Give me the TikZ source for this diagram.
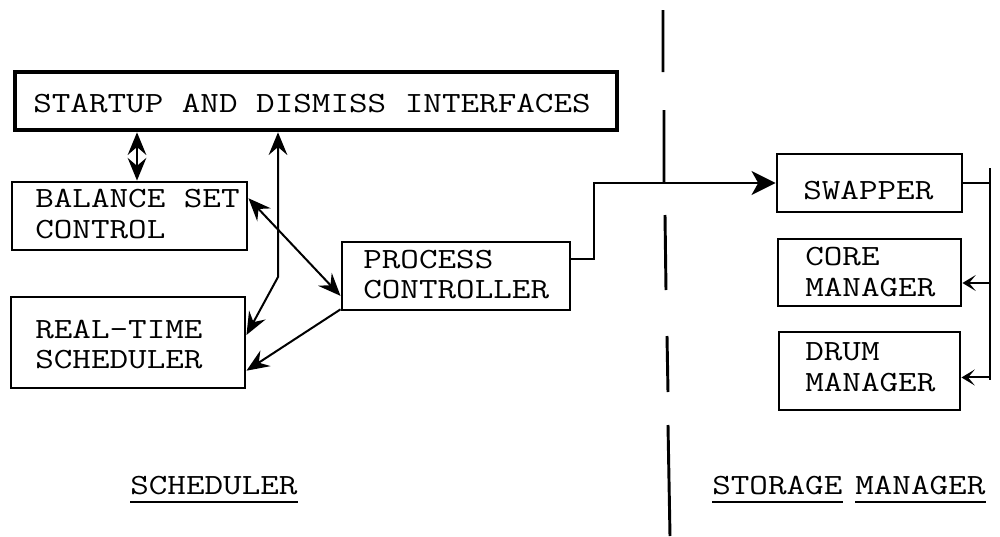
\documentclass[tikz,border=0pt]{standalone}
\usetikzlibrary{arrows.meta,calc,fit}
\newcommand{\twtext}[1]{\scalebox{1.23}[1]{#1}}
\begin{document}
\begin{tikzpicture}[x=0.75pt,y=-0.75pt,
  box/.style={draw, line width=2.2pt, inner sep=0pt},
  bigbox/.style={draw, line width=3.5pt, inner sep=0pt},
  txt/.style={font=\fontsize{22}{24}\selectfont\ttfamily, inner sep=0pt, anchor=base west,
    text height=13.5pt, text depth=0pt},
  conn/.style={line width=1.5pt},
  hd/.tip={Stealth[length=17pt,width=14pt,inset=6pt]},
  smallhd/.tip={Stealth[length=10pt,width=12pt,inset=5pt]},
  uline/.style={line width=2.2pt}
]
\useasboundingbox (0,0) rectangle (1000,536);

% boxes
\node[bigbox, fit={(15,72) (617,130)}] (startup) {};
\node[box, fit={(12,182) (247,250)}] (bal) {};
\node[box, fit={(11,297) (245,388)}] (rt) {};
\node[box, fit={(342,242) (570,310)}] (pc) {};
\node[box, fit={(777,154) (962,212)}] (sw) {};
\node[box, fit={(778,239) (961,306)}] (core) {};
\node[box, fit={(779,332) (960,410)}] (drum) {};

% texts
\node[txt] (t1) at (33,112) {\twtext{STARTUP AND DISMISS INTERFACES}};
\node[txt] (t2) at (35,207) {\twtext{BALANCE SET}};
\node[txt] (t3) at (35,238) {\twtext{CONTROL}};
\node[txt] (t4) at (35,338) {\twtext{REAL-TIME}};
\node[txt] (t5) at (35,368) {\twtext{SCHEDULER}};
\node[txt] (t6) at (363,268) {\twtext{PROCESS}};
\node[txt] (t7) at (363,298) {\twtext{CONTROLLER}};
\node[txt] (t8) at (803,199) {\twtext{SWAPPER}};
\node[txt] (t9) at (805,265) {\twtext{CORE}};
\node[txt] (t10) at (805,296) {\twtext{MANAGER}};
\node[txt] (t11) at (805,360) {\twtext{DRUM}};
\node[txt] (t12) at (805,391) {\twtext{MANAGER}};
\node[txt] (schl) at (130,494) {\twtext{SCHEDULER}};
\node[txt] (stl) at (712,494) {\twtext{STORAGE}};
\node[txt] (mgl) at (855,494) {\twtext{MANAGER}};

% underlines
\draw[uline] ([yshift=-6pt]schl.base west) -- ([yshift=-6pt]schl.base east);
\draw[uline] ([yshift=-6pt]stl.base west) -- ([yshift=-6pt]stl.base east);
\draw[uline] ([yshift=-6pt]mgl.base west) -- ([yshift=-6pt]mgl.base east);

% dashed divider
\draw[line width=2.2pt] (663,10) -- (663,72) (664,110) -- (664,182)
  (665,215) -- (666,290) (667,336) -- (668,392) (668,425) -- (670,536);

% connectors
\coordinate (xa) at (137,150);
\draw[conn, hd-hd] (startup.south -| xa) -- (bal.north -| xa);

\coordinate (kb) at (278,277);
\coordinate (rtin) at ($(rt.north east)!0.42!(rt.south east)$);
\draw[conn, hd-hd] (startup.south -| kb) -- (kb) -- (rtin);

\coordinate (balout) at ($(bal.north east)!0.25!(bal.south east)$);
\coordinate (pcin) at ($(pc.north west)!0.78!(pc.south west)$);
\draw[conn, hd-hd] (balout) -- (pcin);

\coordinate (pcout) at ($(pc.north west)!0.97!(pc.south west)$);
\coordinate (rtin2) at ($(rt.north east)!0.8!(rt.south east)$);
\draw[conn, -hd] (pcout) -- (rtin2);

\coordinate (pcr) at ($(pc.north east)!0.26!(pc.south east)$);
\draw[conn, -{Stealth[length=18pt,width=18pt,inset=5pt]}] (pcr) -- ++(23,0) |- (sw.west);

\coordinate (bus) at (990,168);
\coordinate (busend) at (990,380);
\coordinate (corein) at ($(core.north east)!0.65!(core.south east)$);
\coordinate (drumin) at ($(drum.north east)!0.58!(drum.south east)$);
\draw[conn] (sw.east) -- (sw.east -| bus);
\draw[conn] (bus) -- (busend);
\draw[conn, -smallhd] (corein -| bus) -- (corein);
\draw[conn, -smallhd] (drumin -| bus) -- (drumin);
\end{tikzpicture}
\end{document}
